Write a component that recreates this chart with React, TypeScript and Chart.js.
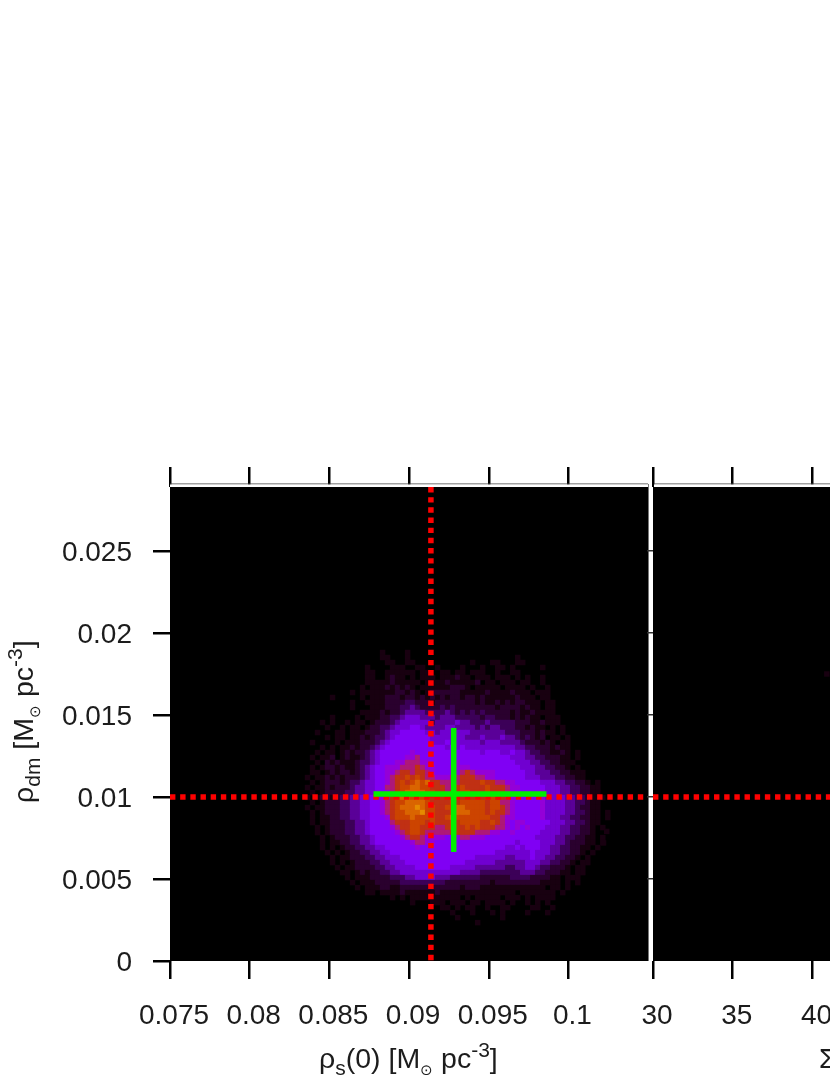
import React, { useEffect, useRef } from "react";
import { Chart, registerables } from "chart.js";

Chart.register(...registerables);

const xTicksLeft = [0.075, 0.08, 0.085, 0.09, 0.095, 0.1];
const xTicksRight = [30, 35, 40];
const yTicks = [0, 0.005, 0.01, 0.015, 0.02, 0.025];

const crossX = [0.08777, 0.0928, 0.09862];
const crossY = [0.00665, 0.01018, 0.01421];
const trueX = 0.09137;
const trueY = 0.01;

const strayLeft = [[0.1024, 0.0079], [0.1022, 0.0072]];
const strayRight = [[40.9, 0.0175]];

// density level per cell, one string per row from the top, one digit per column
const heatRows = [
  "000000000000000001000010000000000000000000000000000000000000",
  "000000000000000001100010000000000000000000001000000000000000",
  "0000000000000000001100110000000000010001100011000000000000",
  "0000000000000010000111001100100001000100110100000100000000",
  "0000000000000011001111110110011011011100100110000000000000",
  "0000000000000011001211010111011121101110111010100100000000",
  "0000000000000011111211111011112111112011011101100100000000",
  "0000000000000101112121210111111222101111101111010010000000",
  "0000000000010111111122121012222221111121111211101110000000",
  "0000000100000101112221221212121221221211111121110110000000",
  "0000000000010011112222332221222222221211212122111011000000",
  "0000000000010001112223343222232322222222122221211011000000",
  "0000000000000111121223444433334323232322222121121111000000",
  "0000000100001011122334555444344433333233222121211011100000",
  "0000010100101101222345555553444454433343333322211211100000",
  "0000001001011012233455566544445544443434433322121101010000",
  "0000100011011122234556666655455555544444443332221211010000",
  "0000001011011212334566666665555555444544454432321201101000",
  "0001000010111222345666666665556555555455544443222121011000",
  "0000010101121223456666666666665656555555555544332221211000",
  "0000101101212234566666676666666666666566655655433221121010",
  "0001011201211234566666778666666666666666666555443322211010",
  "0000102121112334566677888776666676666666666655544332211100",
  "0001012212112345667778889877666777766666666665554433221010",
  "0001101212212345667789989987666778987777666666554443322111",
  "0010112121222345667899a9a98877788999887766666655544433221100",
  "000101222123345566789a9abab9988889999a99887766666555443322101",
  "001011212223445566889aabbaa999889a9999a9998776666655544332211",
  "000101222233445566789abbbbaa99899aa999a9998766666755544332211",
  "00101221233445566789abbabaa99999a9a9a9aa99876666675555443321110",
  "00010122233445566789aabbbba9999a9aaaaa9aa88766666755554433211",
  "00101122233445566789abbbcbaa99aabbaaaa9aa98766666755554432211",
  "00010122233445566789aabbbcaa999abbbaaa9a99876666675555443321101",
  "00010112233445566679aaabaaaa99abaaaaaaa998776666675554433221101",
  "00010112223344566668999aaa9a999a9aaaa99a987677666665554433211",
  "00001012223344566667899aa999889a99a9a9998876767666555443322101",
  "00001012223344566666789aa98888899999888776676666655554433221",
  "00000101222334456666678998777766788777666666666655554433221101",
  "00000101122334456666666788776666666666666666566665554432221101",
  "00000101012233445566666676666666666666666655656665544332211010",
  "00000010101223344556666666666666666666665555555655544332210100",
  "00000001011222334455566666666666666655555544555655443322101000",
  "00000001010122233445556666666666665555554444445554433221011000",
  "00000000101122223344555566666665555544444433445543322210110000",
  "00000000011012122334455555555555544443333333344433222110110000",
  "00000000001011122223334455554443333332222223333222211011100000",
  "00000000000101112222233333333322222222212222222221111010100000",
  "00000000000010111221122222222222212221111111111111011010000000",
  "00000000000000110111121111112111111111111111011111110100000000",
  "00000000000000000001010111111111101011111011101011110000000000",
  "00000000000000000000000100011101110110111101001010100000000000",
  "00000000000000000000000000000110101100100110000110010000000000",
  "00000000000000000000000000000001000100010100001000100000000000",
  "00000000000000000000000000000000100000000100000000000000000000",
  "00000000000000000000000000000000000010000000000000000000000000",
];

const levelColors = [
  "#000000", "#180010", "#2a002e", "#3c0058", "#5a0098", "#7000d0", "#8000f4",
  "#9400d8", "#ae1878", "#c03014", "#cc4400", "#da6400", "#e68a00",
];

const heatX0 = 0.083;
const heatDX = 0.000314;
const heatY0 = 0.01881;
const heatDY = 0.000305;

const heatPoints: { x: number; y: number }[] = [];
const heatColors: string[] = [];
heatRows.forEach((row, r) => {
  row.split("").forEach((c, i) => {
    const level = parseInt(c, 16);
    if (level > 0) {
      heatPoints.push({ x: heatX0 + i * heatDX, y: heatY0 - r * heatDY });
      heatColors.push(levelColors[level]);
    }
  });
});

const TEXT = "#1c1c1c";
const FONT = '"Liberation Sans", Arial, sans-serif';
const Y_MAX = 0.0289;

type Piece = { t: string; dy?: number; size?: number };

function drawPieces(ctx: CanvasRenderingContext2D, pieces: Piece[], x: number, y: number, base: number) {
  let cx = x;
  ctx.textBaseline = "alphabetic";
  ctx.textAlign = "left";
  for (const p of pieces) {
    ctx.font = `${p.size ?? base}px ${FONT}`;
    ctx.fillText(p.t, cx, y + (p.dy ?? 0));
    cx += ctx.measureText(p.t).width;
  }
}

const xTitle: Piece[] = [
  { t: "ρ" }, { t: "s", dy: 7, size: 21 }, { t: "(0) [M" }, { t: "⊙", dy: 7, size: 15 },
  { t: " pc" }, { t: "-3", dy: -11, size: 21 }, { t: "]" },
];
const yTitle: Piece[] = [
  { t: "ρ" }, { t: "dm", dy: 7, size: 21 }, { t: " [M" }, { t: "⊙", dy: 7, size: 15 },
  { t: " pc" }, { t: "-3", dy: -11, size: 21 }, { t: "]" },
];

const panelPlugin = (side: "left" | "right") => ({
  id: "panel" + side,
  beforeDraw(chart: any) {
    const { ctx, chartArea: a } = chart;
    ctx.save();
    ctx.fillStyle = "#000";
    ctx.fillRect(a.left, a.top, a.right - a.left, a.bottom - a.top);
    ctx.restore();
  },
  afterDraw(chart: any) {
    const { ctx, chartArea: a } = chart;
    ctx.save();
    const x0 = side === "left" ? a.left : a.left + 1;
    ctx.fillStyle = "#444";
    ctx.fillRect(x0, a.top - 3.5, a.right - x0, 1);
    ctx.fillStyle = "#fff";
    ctx.fillRect(x0, a.top - 2.5, a.right - x0, 2.5);
    if (side === "left") {
      ctx.fillStyle = "#777";
      ctx.fillRect(a.right, a.top - 3, 1, a.bottom - a.top + 3);
      ctx.fillStyle = TEXT;
      drawPieces(ctx, xTitle, 319, 1068, 28.5);
      ctx.translate(33, 803);
      ctx.rotate(-Math.PI / 2);
      drawPieces(ctx, yTitle, 0, 0, 28.5);
    } else {
      ctx.fillStyle = TEXT;
      drawPieces(ctx, [{ t: "Σ" }], 819, 1068, 28);
    }
    ctx.restore();
  },
});

function lineSets(xMin: number, xMax: number, withCross: boolean) {
  const sets: any[] = [];
  if (withCross) {
    sets.push({
      type: "scatter", showLine: true, order: 1, pointRadius: 0, borderColor: "#00f000", borderWidth: 5.5,
      data: [{ x: crossX[0], y: crossY[1] }, { x: crossX[2], y: crossY[1] }],
    });
    sets.push({
      type: "scatter", showLine: true, order: 1, pointRadius: 0, borderColor: "#00f000", borderWidth: 5.5,
      data: [{ x: crossX[1], y: crossY[0] }, { x: crossX[1], y: crossY[2] }],
    });
    sets.push({
      type: "scatter", showLine: true, order: 2, pointRadius: 0, borderColor: "#ff0000", borderWidth: 5.5,
      borderDash: [5.4, 4.77],
      data: [{ x: trueX, y: Y_MAX }, { x: trueX, y: 0 }],
    });
  }
  sets.push({
    type: "scatter", showLine: true, order: 2, pointRadius: 0, borderColor: "#ff0000", borderWidth: 5.5,
    borderDash: [5.4, 4.77],
    data: [{ x: xMin, y: trueY }, { x: xMax, y: trueY }],
  });
  return sets;
}

function xAxes(min: number, max: number, ticks: number[]) {
  const common = {
    type: "linear" as const,
    min,
    max,
    border: { display: false },
    afterBuildTicks: (s: any) => { s.ticks = ticks.map((value) => ({ value })); },
  };
  return {
    x: {
      ...common,
      position: "bottom" as const,
      afterFit: (s: any) => { s.height = 1075 - 961; },
      grid: { drawOnChartArea: false, color: "#000", tickColor: "#000", tickLength: 18, lineWidth: 2.5 },
      ticks: {
        autoSkip: false, maxRotation: 0, minRotation: 0, padding: 20, color: TEXT, labelOffset: 4,
        font: { family: FONT, size: 28 },
        callback: (v: any) => String(v),
      },
    },
    x2: {
      ...common,
      position: "top" as const,
      afterFit: (s: any) => { s.height = 20; },
      grid: { drawOnChartArea: false, color: "#000", tickColor: "#000", tickLength: 20, lineWidth: 2.5 },
      ticks: { display: false },
    },
  };
}

const baseOptions = {
  responsive: false,
  animation: false as const,
  events: [],
  plugins: { legend: { display: false }, tooltip: { enabled: false } },
};

export default function App() {
  const left = useRef<HTMLCanvasElement>(null);
  const right = useRef<HTMLCanvasElement>(null);

  useEffect(() => {
    const xMaxL = 0.10499;
    const xMaxR = 59.97;
    const c1 = new Chart(left.current!, {
      type: "scatter",
      data: {
        datasets: [
          ...lineSets(0.075, xMaxL, true),
          {
            order: 3, data: heatPoints, pointStyle: "rect", pointRadius: 3.85,
            pointBorderWidth: 0, borderWidth: 0, backgroundColor: heatColors,
          },
          {
            order: 3, data: strayLeft.map(([x, y]) => ({ x, y })), pointStyle: "rect", pointRadius: 3.85,
            borderWidth: 0, backgroundColor: levelColors[1],
          },
        ] as any,
      },
      options: {
        ...baseOptions,
        layout: { padding: { top: 467, right: 830 - 648, left: 0, bottom: 0 } },
        scales: {
          ...xAxes(0.075, xMaxL, xTicksLeft),
          y: {
            type: "linear",
            min: 0,
            max: Y_MAX,
            border: { display: false },
            afterBuildTicks: (s: any) => { s.ticks = yTicks.map((value) => ({ value })); },
            afterFit: (s: any) => { s.width = 170; },
            grid: { drawOnChartArea: false, color: "#000", tickColor: "#000", tickLength: 17, lineWidth: 2.5 },
            ticks: {
              autoSkip: false, padding: 21, color: TEXT, labelOffset: 2,
              font: { family: FONT, size: 28 },
              callback: (v: any) => String(v),
            },
          },
        },
      } as any,
      plugins: [panelPlugin("left")] as any,
    });
    const c2 = new Chart(right.current!, {
      type: "scatter",
      data: {
        datasets: [
          ...lineSets(30, xMaxR, false),
          {
            order: 3, data: strayRight.map(([x, y]) => ({ x, y })), pointStyle: "rect", pointRadius: 3.85,
            borderWidth: 0, backgroundColor: levelColors[1],
          },
        ] as any,
      },
      options: {
        ...baseOptions,
        layout: { padding: { top: 467, right: 9, left: 647, bottom: 0 } },
        scales: {
          ...xAxes(30, xMaxR, xTicksRight),
          y: {
            type: "linear",
            min: 0,
            max: Y_MAX,
            border: { display: false },
            afterBuildTicks: (s: any) => { s.ticks = yTicks.filter((v) => v > 0).map((value) => ({ value })); },
            afterFit: (s: any) => { s.width = 6; },
            grid: { drawOnChartArea: false, color: "#333", tickColor: "#333", tickLength: 6, lineWidth: 1.5 },
            ticks: { display: false },
          },
        },
      } as any,
      plugins: [panelPlugin("right")] as any,
    });
    return () => { c1.destroy(); c2.destroy(); };
  }, []);

  const canvasStyle: React.CSSProperties = { position: "absolute", left: 0, top: 0, filter: "blur(0.4px)" };
  return (
    <div style={{ position: "absolute", left: 0, top: 0, width: 830, height: 1075, overflow: "hidden", background: "#fff" }}>
      <canvas ref={left} width={830} height={1075} style={canvasStyle} />
      <canvas ref={right} width={1140} height={1075} style={canvasStyle} />
    </div>
  );
}
